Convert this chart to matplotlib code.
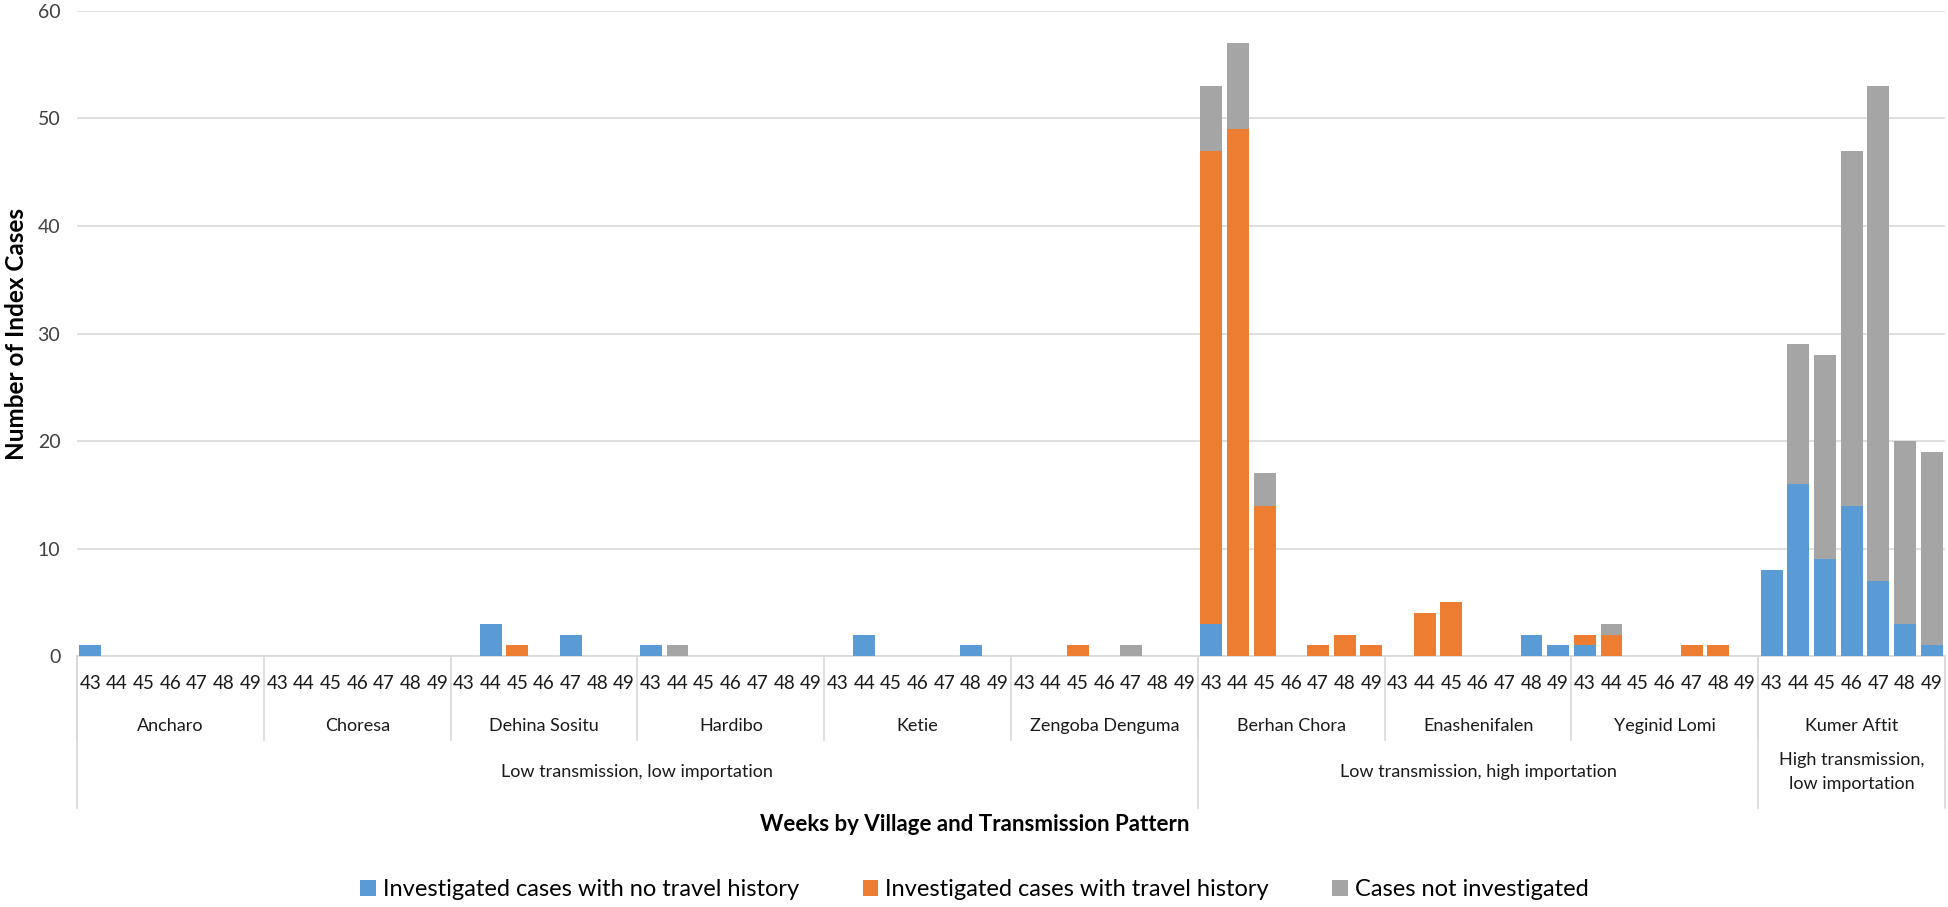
import numpy as np
import matplotlib
matplotlib.use('Agg')
import matplotlib.pyplot as plt
import matplotlib.transforms as mtransforms

villages = ['Ancharo', 'Choresa', 'Dehina Sositu', 'Hardibo', 'Ketie', 'Zengoba Denguma',
            'Berhan Chora', 'Enashenifalen', 'Yeginid Lomi', 'Kumer Aftit']
weeks = ['43', '44', '45', '46', '47', '48', '49']
groups = ['Low transmission, low importation', 'Low transmission, high importation',
          'High transmission,\nlow importation']
group_sizes = [6, 3, 1]

# weeks 43..49 for each village
no_travel = [
    [1, 0, 0, 0, 0, 0, 0],
    [0, 0, 0, 0, 0, 0, 0],
    [0, 3, 0, 0, 2, 0, 0],
    [1, 0, 0, 0, 0, 0, 0],
    [0, 2, 0, 0, 0, 1, 0],
    [0, 0, 0, 0, 0, 0, 0],
    [3, 0, 0, 0, 0, 0, 0],
    [0, 0, 0, 0, 0, 2, 1],
    [1, 0, 0, 0, 0, 0, 0],
    [8, 16, 9, 14, 7, 3, 1],
]
travel = [
    [0, 0, 0, 0, 0, 0, 0],
    [0, 0, 0, 0, 0, 0, 0],
    [0, 0, 1, 0, 0, 0, 0],
    [0, 0, 0, 0, 0, 0, 0],
    [0, 0, 0, 0, 0, 0, 0],
    [0, 0, 1, 0, 0, 0, 0],
    [44, 49, 14, 0, 1, 2, 1],
    [0, 4, 5, 0, 0, 0, 0],
    [1, 2, 0, 0, 1, 1, 0],
    [0, 0, 0, 0, 0, 0, 0],
]
not_investigated = [
    [0, 0, 0, 0, 0, 0, 0],
    [0, 0, 0, 0, 0, 0, 0],
    [0, 0, 0, 0, 0, 0, 0],
    [0, 1, 0, 0, 0, 0, 0],
    [0, 0, 0, 0, 0, 0, 0],
    [0, 0, 0, 0, 1, 0, 0],
    [6, 8, 3, 0, 0, 0, 0],
    [0, 0, 0, 0, 0, 0, 0],
    [0, 1, 0, 0, 0, 0, 0],
    [0, 13, 19, 33, 46, 17, 18],
]

labels = ['Investigated cases with no travel history', 'Investigated cases with travel history',
          'Cases not investigated']
colors = ['#5B9BD5', '#ED7D31', '#A5A5A5']
line_col = '#D9D9D9'
font = 'Lato'

a = np.array(no_travel).ravel()
b = np.array(travel).ravel()
c = np.array(not_investigated).ravel()
nw = len(weeks)
x = np.arange(len(a))

fig = plt.figure(figsize=(19.49, 9.07), dpi=100)
ax = fig.add_axes([0.0395, 0.2767, 0.9585, 0.7112])

w = 0.82
ax.bar(x, a, w, color=colors[0], label=labels[0], zorder=3)
ax.bar(x, b, w, bottom=a, color=colors[1], label=labels[1], zorder=3)
ax.bar(x, c, w, bottom=a + b, color=colors[2], label=labels[2], zorder=3)

ax.set_xlim(-0.5, len(x) - 0.5)
ax.set_ylim(0, 60)
ax.set_yticks(range(0, 61, 10))
ax.yaxis.grid(True, color=line_col, lw=1.2, zorder=0)
ax.tick_params(axis='y', length=0, labelsize=14, pad=12, labelcolor='#404040')
for t in ax.get_yticklabels():
    t.set_family(font)
ax.set_xticks([])
for s in ['top', 'right', 'left']:
    ax.spines[s].set_visible(False)
ax.spines['bottom'].set_color(line_col)
ax.spines['bottom'].set_linewidth(1.2)

trans = mtransforms.blended_transform_factory(ax.transData, ax.transAxes)

# week labels
for i in x:
    ax.text(i, -0.043, weeks[i % nw], transform=trans, ha='center', va='center',
            fontsize=13.5, family=font, color='#1a1a1a')

# village labels and separators
for v, name in enumerate(villages):
    ax.text(v * nw + (nw - 1) / 2, -0.109, name, transform=trans, ha='center', va='center',
            fontsize=13, family=font, color='#1a1a1a')
for v in range(len(villages) + 1):
    ax.plot([v * nw - 0.5] * 2, [0, -0.13], transform=trans, color=line_col, lw=1.2,
            clip_on=False)

# group labels and separators
start = 0
bounds = [0]
for g, n in zip(groups, group_sizes):
    mid = (start + n / 2) * nw - 0.5
    ax.text(mid, -0.18, g, transform=trans, ha='center', va='center', fontsize=13,
            family=font, color='#1a1a1a', linespacing=1.6)
    start += n
    bounds.append(start)
for bd in bounds:
    ax.plot([bd * nw - 0.5] * 2, [0, -0.236], transform=trans, color=line_col, lw=1.2,
            clip_on=False)

ax.set_ylabel('Number of Index Cases', fontsize=17.5, family=font, fontweight='bold',
              labelpad=7)
fig.text(0.5, 0.0915, 'Weeks by Village and Transmission Pattern', ha='center', va='center',
         fontsize=16, family=font, fontweight='bold')

fig.legend(loc='center', bbox_to_anchor=(0.5, 0.019), ncol=3, frameon=False,
           prop={'family': font, 'size': 17}, handlelength=0.65, handleheight=0.65,
           handletextpad=0.3, columnspacing=2.7)

fig.savefig('out.png', dpi=100)
